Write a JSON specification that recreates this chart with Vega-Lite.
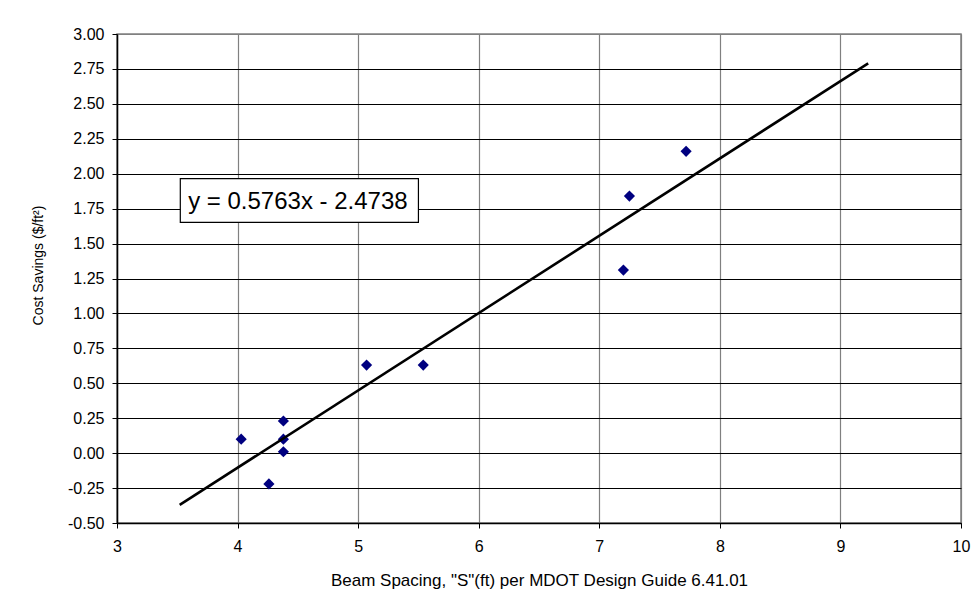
{
  "$schema": "https://vega.github.io/schema/vega-lite/v6.json",
  "width": 844,
  "height": 489,
  "autosize": {"type": "none"},
  "padding": {"left": 117, "top": 34, "right": 18, "bottom": 87},
  "background": "white",
  "config": {
    "view": {"stroke": "#808080", "strokeWidth": 1.5},
    "font": "Liberation Sans",
    "axis": {
      "labelFont": "Liberation Sans",
      "titleFont": "Liberation Sans",
      "labelFontSize": 16,
      "titleFontSize": 15,
      "titleFontWeight": "normal",
      "labelColor": "black",
      "titleColor": "black",
      "domainColor": "black",
      "domainWidth": 1.5,
      "tickColor": "black",
      "tickSize": 5,
      "gridWidth": 1.2,
      "labelOverlap": false,
      "labelFlush": false
    },
    "axisY": {"labelOverlap": false, "labelSeparation": 0},
    "axisQuantitative": {"labelOverlap": false}
  },
  "data": {
    "values": [
      {"kind": "point", "spacing": 4.03, "savings": 0.10},
      {"kind": "point", "spacing": 4.38, "savings": 0.23},
      {"kind": "point", "spacing": 4.38, "savings": 0.10},
      {"kind": "point", "spacing": 4.38, "savings": 0.01},
      {"kind": "point", "spacing": 4.26, "savings": -0.22},
      {"kind": "point", "spacing": 5.07, "savings": 0.63},
      {"kind": "point", "spacing": 5.54, "savings": 0.63},
      {"kind": "point", "spacing": 7.20, "savings": 1.31},
      {"kind": "point", "spacing": 7.25, "savings": 1.84},
      {"kind": "point", "spacing": 7.72, "savings": 2.16},
      {"kind": "trend", "spacing": 3.52, "savings": -0.37},
      {"kind": "trend", "spacing": 9.23, "savings": 2.79},
      {"kind": "box", "spacing": 3.525, "savings": 1.965, "spacing_end": 5.50, "savings_end": 1.652},
      {"kind": "text", "spacing": 3.59, "savings": 1.75, "text": "y = 0.5763x - 2.4738"}
    ]
  },
  "encoding": {
    "x": {
      "field": "spacing", "type": "quantitative",
      "scale": {"domain": [3, 10], "nice": false, "zero": false},
      "axis": {
        "title": "Beam Spacing, \"S\"(ft) per MDOT Design Guide 6.41.01",
        "titleFontSize": 17,
        "values": [3, 4, 5, 6, 7, 8, 9, 10],
        "format": "d",
        "grid": true,
        "gridColor": "#808080",
        "labelOverlap": false,
        "labelFlush": false,
        "labelPadding": 10,
        "titlePadding": 18
      }
    },
    "y": {
      "field": "savings", "type": "quantitative",
      "scale": {"domain": [-0.5, 3], "nice": false, "zero": false},
      "axis": {
        "title": "Cost Savings ($/ft²)",
        "titleFontSize": 14,
        "titleY": 231,
        "values": [-0.5, -0.25, 0, 0.25, 0.5, 0.75, 1, 1.25, 1.5, 1.75, 2, 2.25, 2.5, 2.75, 3],
        "format": ".2f",
        "labelExpr": "replace(datum.label, '−', '-')",
        "labelOverlap": false,
        "labelFlush": false,
        "grid": true,
        "gridColor": {"condition": {"test": "datum.value == 3", "value": "#808080"}, "value": "black"},
        "labelPadding": 8,
        "titlePadding": 22
      }
    }
  },
  "layer": [
    {
      "transform": [{"filter": "datum.kind == 'point'"}],
      "mark": {"type": "point", "shape": "diamond", "filled": true, "color": "#000080", "size": 125, "opacity": 1}
    },
    {
      "transform": [{"filter": "datum.kind == 'trend'"}],
      "mark": {"type": "line", "color": "black", "strokeWidth": 2.6}
    },
    {
      "transform": [{"filter": "datum.kind == 'box'"}],
      "mark": {"type": "rect", "fill": "white", "stroke": "black", "strokeWidth": 1.2},
      "encoding": {
        "x2": {"field": "spacing_end"},
        "y2": {"field": "savings_end"}
      }
    },
    {
      "transform": [{"filter": "datum.kind == 'text'"}],
      "mark": {"type": "text", "align": "left", "baseline": "alphabetic", "fontSize": 24, "font": "Liberation Sans", "color": "black"},
      "encoding": {
        "text": {"field": "text"}
      }
    }
  ]
}
